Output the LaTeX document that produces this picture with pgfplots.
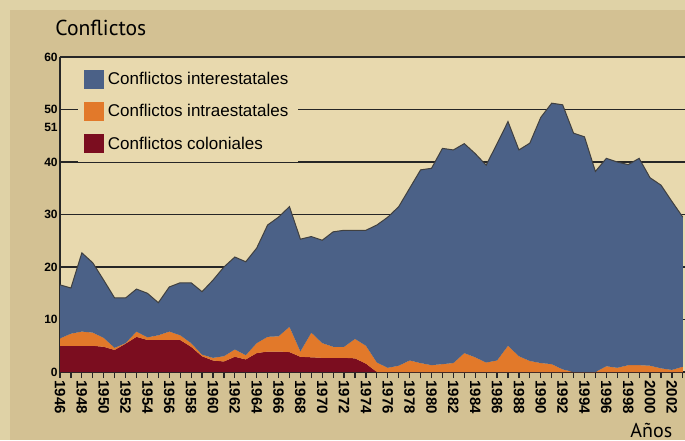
\documentclass[border=0pt]{standalone}
\usepackage{pgfplots}
\pgfplotsset{compat=1.18}
\usepackage{pgfplotstable}
\usepackage{fontspec}
\setmainfont{Liberation Sans}
\newfontfamily\ptsans{PT Sans}

\definecolor{outer}{HTML}{DFD2A6}
\definecolor{panel}{HTML}{D3C193}
\definecolor{plotbg}{HTML}{E8D9AE}
\definecolor{inter}{HTML}{4B6187}
\definecolor{intra}{HTML}{E2792A}
\definecolor{colon}{HTML}{7B0D1F}

% year, colonial, intraestatales, interestatales (stacked in this order)
\pgfplotstableread{
year colonial intra inter
1946 5.0 1.4 10.2
1947 5.0 2.3 8.7
1948 5.0 2.7 15.0
1949 5.0 2.5 13.3
1950 4.8 1.7 11.0
1951 4.2 0.4 9.5
1952 5.4 0.1 8.6
1953 6.7 1.0 8.1
1954 6.1 0.5 8.4
1955 6.1 0.9 6.2
1956 6.1 1.6 8.5
1957 6.1 0.9 10.0
1958 4.8 0.7 11.5
1959 3.0 0.3 12.0
1960 2.2 0.5 14.8
1961 2.0 1.0 17.0
1962 2.9 1.4 17.6
1963 2.4 0.8 17.8
1964 3.6 1.9 18.1
1965 3.9 2.8 21.3
1966 3.9 2.9 22.7
1967 3.8 4.8 22.9
1968 2.9 1.0 21.4
1969 2.8 4.7 18.3
1970 2.7 2.8 19.6
1971 2.7 2.1 21.9
1972 2.7 2.1 22.2
1973 2.6 3.7 20.7
1974 1.6 3.4 22.0
1975 0.0 1.8 26.2
1976 0.0 0.8 28.7
1977 0.0 1.2 30.3
1978 0.0 2.2 32.8
1979 0.0 1.7 36.8
1980 0.0 1.3 37.5
1981 0.0 1.5 41.1
1982 0.0 1.7 40.6
1983 0.0 3.6 39.9
1984 0.0 2.8 38.8
1985 0.0 1.8 37.6
1986 0.0 2.2 41.3
1987 0.0 5.0 42.7
1988 0.0 3.0 39.3
1989 0.0 2.1 41.5
1990 0.0 1.7 46.8
1991 0.0 1.5 49.7
1992 0.0 0.5 50.4
1993 0.0 0.0 45.5
1994 0.0 0.0 44.8
1995 0.0 0.0 38.2
1996 0.0 1.1 39.6
1997 0.0 0.8 39.2
1998 0.0 1.3 38.2
1999 0.0 1.3 39.4
2000 0.0 1.2 35.8
2001 0.0 0.7 34.9
2002 0.0 0.4 32.1
2003 0.0 1.0 28.5
}\conflictos

\begin{document}
\begin{tikzpicture}
\useasboundingbox (0,0) rectangle (342.5pt,220pt);
\fill[outer] (0,0) rectangle (342.5pt,220pt);
\fill[panel] (5pt,0) rectangle (342.5pt,215pt);
\node[anchor=base west, font=\ptsans\fontsize{10.8}{12}\selectfont, inner sep=0]
  at (27.5pt,202pt) {Conflictos};
\node[anchor=base west, font=\ptsans\fontsize{10}{10}\selectfont, inner sep=0]
  at (315pt,1.5pt) {Años};
\begin{axis}[
  at={(30pt,34pt)}, anchor=south west, scale only axis,
  width=312.5pt, height=157.5pt,
  xmin=1946, xmax=2003.2, ymin=0, ymax=60,
  clip=false,
  axis background/.style={fill=plotbg},
  axis x line*=bottom, axis y line*=left,
  axis line style={-, line width=0.8pt, black!85},
  ytick={0,10,...,60},
  ymajorgrids,
  major grid style={black!85, line width=0.7pt},
  ytick style={draw=none},
  xtick={1946,1948,...,2002},
  minor xtick={1947,1949,...,2003},
  xtick align=outside,
  major tick length=3pt, minor tick length=3pt,
  every tick/.style={black!85, line width=0.6pt},
  /pgf/number format/1000 sep={},
  /pgf/number format/assume math mode=true,
  x tick label style={rotate=-90, anchor=west, inner sep=1pt,
    font=\bfseries\fontsize{7.5}{7.5}\selectfont},
  y tick label style={font=\bfseries\fontsize{6}{6}\selectfont, inner sep=1pt},
  reverse legend,
  legend cell align=left,
  legend style={at={(rel axis cs:0.028,0.985)}, anchor=north west,
    draw=none, fill=plotbg, inner xsep=3pt, inner ysep=3pt,
    font=\fontsize{8.5}{9}\selectfont, row sep=4.5pt},
  legend image code/.code={\fill[#1] (0pt,-4.5pt) rectangle (10pt,5pt);},
]
\addplot[stack plots=y, fill=colon, draw=none] table[x=year, y=colonial] {\conflictos} \closedcycle;
\addlegendentry{Conflictos coloniales}
\addplot[stack plots=y, fill=intra, draw=none] table[x=year, y=intra] {\conflictos} \closedcycle;
\addlegendentry{Conflictos intraestatales}
\addplot[stack plots=y, fill=inter, draw=none] table[x=year, y=inter] {\conflictos} \closedcycle;
\addlegendentry{Conflictos interestatales}
\addplot[forget plot, black!75, line width=0.5pt]
  table[x=year, y expr=\thisrow{colonial}+\thisrow{intra}+\thisrow{inter}] {\conflictos};
\node[anchor=east, inner sep=1pt, font=\bfseries\fontsize{6}{6}\selectfont]
  at (axis cs:1946,46.6) {51};
\end{axis}
\end{tikzpicture}
\end{document}
